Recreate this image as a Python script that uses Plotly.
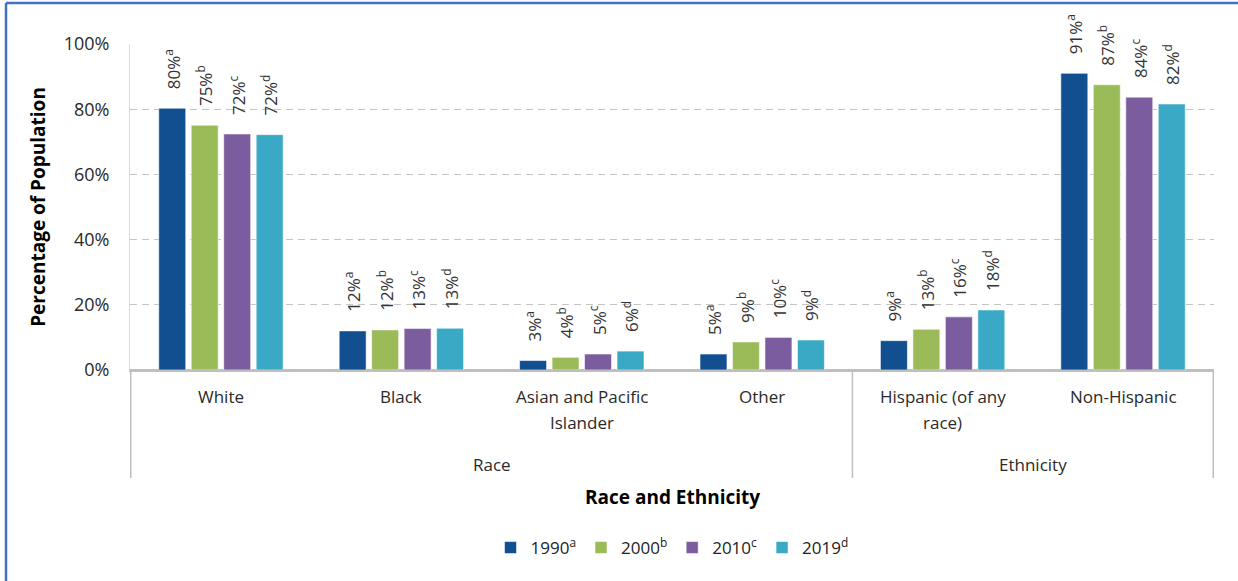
import plotly.graph_objects as go

categories = ["White", "Black", "Asian and Pacific<br>Islander", "Other",
              "Hispanic (of any<br>race)", "Non-Hispanic"]
group_names = ["Race", "Ethnicity"]
group_spans = [(0, 3), (4, 5)]  # index ranges of categories in each group
years = ["1990", "2000", "2010", "2019"]
sups = ["a", "b", "c", "d"]
colors = ["#124F90", "#9BBB59", "#7B5C9E", "#39A9C6"]

v1990 = [80.3, 12.0, 2.9, 4.9, 9.0, 91.0]
v2000 = [75.1, 12.3, 3.9, 8.6, 12.5, 87.5]
v2010 = [72.4, 12.7, 4.9, 10.0, 16.3, 83.7]
v2019 = [72.2, 12.8, 5.8, 9.2, 18.4, 81.6]

l1990 = ["80%", "12%", "3%", "5%", "9%", "91%"]
l2000 = ["75%", "12%", "4%", "9%", "13%", "87%"]
l2010 = ["72%", "13%", "5%", "10%", "16%", "84%"]
l2019 = ["72%", "13%", "6%", "9%", "18%", "82%"]

values = [v1990, v2000, v2010, v2019]
labels = [l1990, l2000, l2010, l2019]

FONT = "Open Sans"
W, H = 1238, 581
ML, MR, MT, MB = 130, 24, 44, 211
PW, PH = W - ML - MR, H - MT - MB


def py(pix):
    """pixel row (from top of page) -> paper y"""
    return (H - MB - pix) / PH


def px(pix):
    return (pix - ML) / PW


fig = go.Figure()
for yr, sp, col, vals, labs in zip(years, sups, colors, values, labels):
    fig.add_trace(go.Bar(
        x=categories,
        y=vals,
        name=f"{yr}<sup>{sp}</sup>",
        marker=dict(color=col, line=dict(color="rgba(255,255,255,0.55)", width=1)),
        text=[f"\u00a0\u00a0\u00a0\u2009{t}<sup>{sp}</sup>" for t in labs],
        textposition="outside",
        textangle=-90,
        constraintext="none",
        cliponaxis=False,
        textfont=dict(family=FONT, size=17, color="#333333"),
        hoverinfo="skip",
    ))

annotations = []
# category labels, one annotation per line (Excel-like line spacing)
for i, cat in enumerate(categories):
    for j, line in enumerate(cat.split("<br>")):
        annotations.append(dict(
            x=i, xref="x", y=py(396 + 26 * j), yref="paper",
            text=line, showarrow=False, xanchor="center", yanchor="middle",
            font=dict(family=FONT, size=17, color="#2A2A2A"),
        ))
# group labels
for name, (a, b) in zip(group_names, group_spans):
    annotations.append(dict(
        x=(a + b) / 2, xref="x", y=py(464), yref="paper",
        text=name, showarrow=False, xanchor="center", yanchor="middle",
        font=dict(family=FONT, size=17, color="#2A2A2A"),
    ))
# x-axis title
annotations.append(dict(
    x=0.5, xref="paper", y=py(497), yref="paper",
    text="<b>Race and Ethnicity</b>", showarrow=False, xanchor="center", yanchor="middle",
    font=dict(family=FONT, size=19, color="#000000"),
))

shapes = []
# group dividers
div_pos = [group_spans[0][0] - 0.5] + [b + 0.5 for (_, b) in group_spans]
for d in div_pos:
    shapes.append(dict(type="line", xref="x", yref="paper", x0=d, x1=d, y0=0, y1=py(478),
                       line=dict(color="#BFBFBF", width=1.5)))
# outer blue frame (top and left edges visible)
shapes.append(dict(type="line", xref="paper", yref="paper", x0=px(6), x1=px(W + 5),
                   y0=py(3), y1=py(3), line=dict(color="#4472C4", width=2.5)))
shapes.append(dict(type="line", xref="paper", yref="paper", x0=px(6), x1=px(6),
                   y0=py(3), y1=py(H + 5), line=dict(color="#4472C4", width=2.5)))

fig.update_layout(
    width=W, height=H,
    margin=dict(l=ML, r=MR, t=MT, b=MB, autoexpand=False),
    paper_bgcolor="white", plot_bgcolor="white",
    barmode="group", bargap=0.28, bargroupgap=0.17,
    font=dict(family=FONT, size=16, color="#222222"),
    showlegend=True,
    legend=dict(orientation="h", x=0.5, xanchor="center", y=py(548), yanchor="middle",
                font=dict(family=FONT, size=17, color="#222222"),
                itemwidth=30, traceorder="normal"),
    xaxis=dict(
        type="category", automargin=False,
        showline=True, linecolor="#BFBFBF", linewidth=1.5,
        showticklabels=False, ticks="", showgrid=False,
    ),
    yaxis=dict(
        range=[0, 100], dtick=20, ticksuffix="%", automargin=False,
        showgrid=True, gridcolor="#C4C4C4", griddash="7px,5px", gridwidth=1,
        zeroline=True, zerolinecolor="#BFBFBF", zerolinewidth=1.5,
        showline=True, linecolor="#D9D9D9", linewidth=1,
        tickfont=dict(family=FONT, size=18, color="#2A2A2A"),
        ticks="", ticklabelstandoff=16,
        title=dict(text="<b>Percentage of Population</b>",
                   font=dict(family=FONT, size=19, color="#000000"), standoff=12),
    ),
    annotations=annotations,
    shapes=shapes,
)

# remove the browser's default 8px page margin so the figure fills the window exactly
fig.write_html("out.html", config={"displayModeBar": False},
               post_script="document.body.style.margin='0px';")
